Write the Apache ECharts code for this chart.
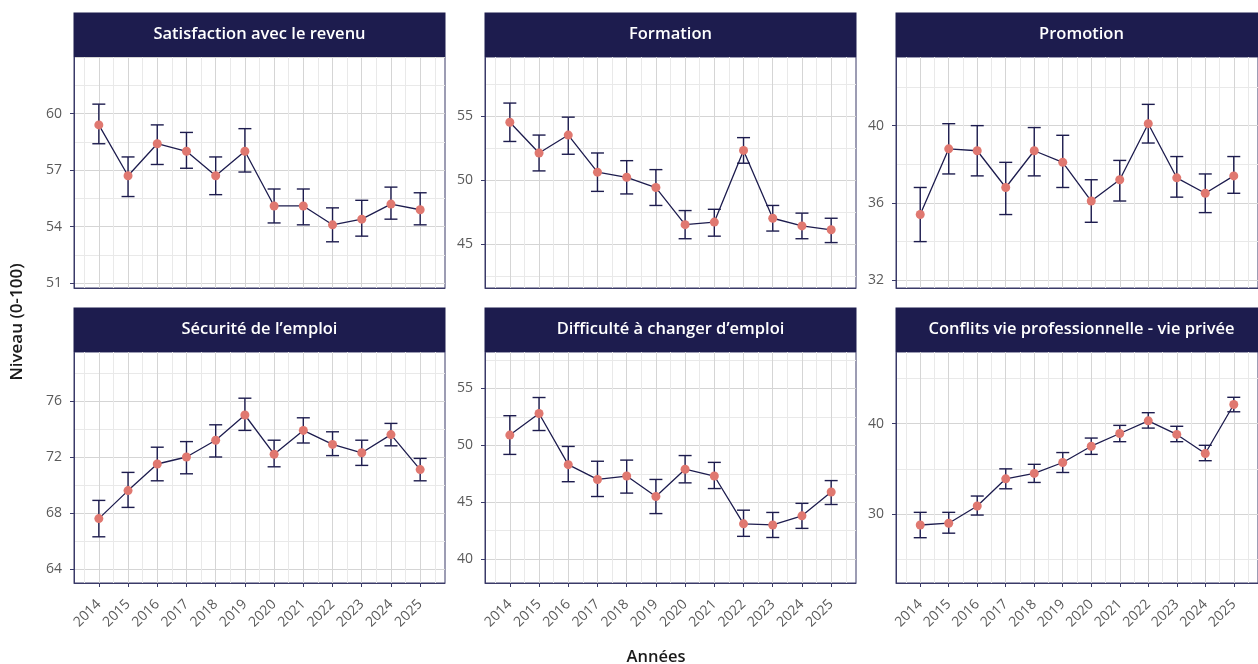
<!DOCTYPE html>
<html><head><meta charset="utf-8">
<script src="https://cdn.jsdelivr.net/npm/echarts@6/dist/echarts.min.js"></script>
<style>html,body{margin:0;padding:0;background:#fff}#c{width:1258px;height:664px}</style>
</head><body><div id="c"></div>
<script>
// ---------- data ----------
const years = [2014,2015,2016,2017,2018,2019,2020,2021,2022,2023,2024,2025];
const yearLabels = ['2014','2015','2016','2017','2018','2019','2020','2021','2022','2023','2024','2025'];
const panelTitles = ['Satisfaction avec le revenu','Formation','Promotion','Sécurité de l\u2019emploi','Difficulté à changer d\u2019emploi','Conflits vie professionnelle - vie privée'];

const revenuMean = [59.4,56.7,58.4,58.0,56.7,58.0,55.1,55.1,54.1,54.4,55.2,54.9];
const revenuLow  = [58.4,55.6,57.3,57.1,55.7,56.9,54.2,54.1,53.2,53.5,54.4,54.1];
const revenuHigh = [60.5,57.7,59.4,59.0,57.7,59.2,56.0,56.0,55.0,55.4,56.1,55.8];

const formationMean = [54.5,52.1,53.5,50.6,50.2,49.4,46.5,46.7,52.3,47.0,46.4,46.1];
const formationLow  = [53.0,50.7,52.0,49.1,48.9,48.0,45.4,45.6,51.3,46.0,45.4,45.1];
const formationHigh = [56.0,53.5,54.9,52.1,51.5,50.8,47.6,47.7,53.3,48.0,47.4,47.0];

const promotionMean = [35.4,38.8,38.7,36.8,38.7,38.1,36.1,37.2,40.1,37.3,36.5,37.4];
const promotionLow  = [34.0,37.5,37.4,35.4,37.4,36.8,35.0,36.1,39.1,36.3,35.5,36.5];
const promotionHigh = [36.8,40.1,40.0,38.1,39.9,39.5,37.2,38.2,41.1,38.4,37.5,38.4];

const securiteMean = [67.6,69.6,71.5,72.0,73.2,75.0,72.2,73.9,72.9,72.3,73.6,71.1];
const securiteLow  = [66.3,68.4,70.3,70.8,72.0,73.9,71.3,73.0,72.1,71.4,72.8,70.3];
const securiteHigh = [68.9,70.9,72.7,73.1,74.3,76.2,73.2,74.8,73.8,73.2,74.4,71.9];

const difficulteMean = [50.9,52.8,48.3,47.0,47.3,45.5,47.9,47.3,43.1,43.0,43.8,45.9];
const difficulteLow  = [49.2,51.3,46.8,45.5,45.8,44.0,46.7,46.2,42.0,41.9,42.7,44.8];
const difficulteHigh = [52.6,54.2,49.9,48.6,48.7,47.0,49.1,48.5,44.3,44.1,44.9,46.9];

const conflitsMean = [28.8,29.0,30.9,33.9,34.5,35.7,37.5,38.9,40.3,38.8,36.7,42.1];
const conflitsLow  = [27.4,27.9,29.9,32.8,33.5,34.6,36.6,38.0,39.5,38.0,35.9,41.3];
const conflitsHigh = [30.2,30.2,32.0,35.0,35.5,36.8,38.4,39.8,41.2,39.7,37.6,42.9];

const yTicksRevenu = [51,54,57,60];
const yTicksFormation = [45,50,55];
const yTicksPromotion = [32,36,40];
const yTicksSecurite = [64,68,72,76];
const yTicksDifficulte = [40,45,50,55];
const yTicksConflits = [30,40];

// ---------- panel configuration ----------
const panels = [
  {mean: revenuMean, low: revenuLow, high: revenuHigh, ticks: yTicksRevenu, min: 50.75, max: 63.0, major: 3},
  {mean: formationMean, low: formationLow, high: formationHigh, ticks: yTicksFormation, min: 41.55, max: 59.6, major: 5},
  {mean: promotionMean, low: promotionLow, high: promotionHigh, ticks: yTicksPromotion, min: 31.6, max: 43.55, major: 4},
  {mean: securiteMean, low: securiteLow, high: securiteHigh, ticks: yTicksSecurite, min: 63.0, max: 79.5, major: 4},
  {mean: difficulteMean, low: difficulteLow, high: difficulteHigh, ticks: yTicksDifficulte, min: 37.9, max: 58.2, major: 5},
  {mean: conflitsMean, low: conflitsLow, high: conflitsHigh, ticks: yTicksConflits, min: 22.4, max: 47.9, major: 10}
];

const NAVY = '#1d1c4e';
const BORDER = '#3a3a68';
const POINT = '#e07870';
const MAJOR = '#d5d5d5';
const MINOR = '#e9e9e9';
const TXT = '#5a5a5a';
const FONT = '"Open Sans", "Noto Sans", sans-serif';
const STEP = 0.05;
const XMIN = 2013.15, XMAX = 2025.85;

const colLeft = [74, 485, 896];
const rowTop = [57, 352];
const W = 371, H = 231, STRIP = 44.5;

function gridColors(min, step, major) {
  const n = Math.round(major / step);
  const arr = [];
  for (let i = 0; i < n; i++) {
    const v = min + i * step;
    const r = ((v % major) + major) % major;
    const q = r / (major / 2);
    const qi = Math.round(q);
    if (Math.abs(q - qi) < 1e-6) arr.push(qi % 2 === 0 ? MAJOR : MINOR);
    else arr.push('rgba(0,0,0,0)');
  }
  return arr;
}

const grids = [], xAxes = [], yAxes = [], series = [], graphics = [];

panels.forEach((p, k) => {
  const col = k % 3, row = Math.floor(k / 3);
  const left = colLeft[col], top = rowTop[row];
  const bottomRow = row === 1;
  grids.push({left: left, top: top, width: W, height: H, show: true,
    borderColor: BORDER, borderWidth: 1, backgroundColor: '#fff', containLabel: false});

  // grid-line axes
  xAxes.push({type: 'value', gridIndex: k, min: XMIN, max: XMAX, interval: STEP, position: 'bottom',
    axisLine: {show: false}, axisTick: {show: false}, axisLabel: {show: false},
    splitLine: {show: true, lineStyle: {color: gridColors(XMIN, STEP, 1), width: 1}}});
  yAxes.push({type: 'value', gridIndex: k, min: p.min, max: p.max, interval: STEP, position: 'left',
    axisLine: {show: false}, axisTick: {show: false}, axisLabel: {show: false},
    splitLine: {show: true, lineStyle: {color: gridColors(p.min, STEP, p.major), width: 1}}});

  // label axes
  xAxes.push({type: 'value', gridIndex: k, min: XMIN, max: XMAX, position: 'bottom', offset: 0,
    axisLine: {show: true, lineStyle: {color: BORDER, width: 1}},
    axisTick: {show: bottomRow, length: 4, lineStyle: {color: BORDER}, customValues: years},
    axisLabel: {show: bottomRow, customValues: years, rotate: 45, margin: 19, color: TXT, fontSize: 14, fontFamily: FONT,
      formatter: v => { const i = years.indexOf(Math.round(v)); return (Math.abs(v - Math.round(v)) < 1e-6 && i >= 0) ? yearLabels[i] : ''; }},
    splitLine: {show: false}});
  yAxes.push({type: 'value', gridIndex: k, min: p.min, max: p.max, position: 'left', offset: 0,
    axisLine: {show: true, lineStyle: {color: BORDER, width: 1}},
    axisTick: {show: true, length: 4, lineStyle: {color: BORDER}, customValues: p.ticks},
    axisLabel: {show: true, customValues: p.ticks, margin: 12, color: TXT, fontSize: 14, fontFamily: FONT,
      formatter: v => (p.ticks.some(t => Math.abs(t - v) < 1e-6) ? String(Math.round(v)) : '')},
    splitLine: {show: false}});

  const xi = 2 * k + 1, yi = 2 * k + 1;
  const errData = years.map((y, i) => [y, p.low[i], p.high[i]]);
  series.push({
    type: 'custom', xAxisIndex: xi, yAxisIndex: yi, z: 2, silent: true, clip: false,
    data: errData,
    renderItem: (params, api) => {
      const x = api.value(0);
      const lo = api.coord([x, api.value(1)]);
      const hi = api.coord([x, api.value(2)]);
      const hw = 6.5;
      const st = {stroke: NAVY, lineWidth: 1.4};
      return {type: 'group', children: [
        {type: 'line', shape: {x1: hi[0], y1: hi[1], x2: lo[0], y2: lo[1]}, style: st},
        {type: 'line', shape: {x1: hi[0] - hw, y1: hi[1], x2: hi[0] + hw, y2: hi[1]}, style: st},
        {type: 'line', shape: {x1: lo[0] - hw, y1: lo[1], x2: lo[0] + hw, y2: lo[1]}, style: st}
      ]};
    }
  });
  series.push({
    type: 'line', xAxisIndex: xi, yAxisIndex: yi, z: 3, silent: true,
    data: years.map((y, i) => [y, p.mean[i]]),
    symbol: 'circle', symbolSize: 9, showSymbol: true,
    itemStyle: {color: POINT, borderWidth: 0},
    lineStyle: {color: NAVY, width: 1.3},
    animation: false
  });

  // strip
  graphics.push({type: 'rect', shape: {x: left - 0.5, y: top - STRIP, width: W + 1, height: STRIP},
    style: {fill: NAVY}, z: 10});
  graphics.push({type: 'text', x: left + W / 2, y: top - STRIP / 2, z: 11,
    style: {text: panelTitles[k], fill: '#ffffff', fontSize: 16.5, fontWeight: 600, fontFamily: FONT,
      align: 'center', verticalAlign: 'middle'}});
});

graphics.push({type: 'text', x: 17, y: 322, rotation: Math.PI / 2, z: 11,
  style: {text: 'Niveau (0-100)', fill: '#1a1a1a', fontSize: 17, fontWeight: 600, fontFamily: FONT,
    align: 'center', verticalAlign: 'middle'}});
graphics.push({type: 'text', x: 656, y: 657, z: 11,
  style: {text: 'Années', fill: '#1a1a1a', fontSize: 16.5, fontWeight: 600, fontFamily: FONT,
    align: 'center', verticalAlign: 'middle'}});

const chart = echarts.init(document.getElementById('c'), null, {renderer: 'canvas'});
chart.setOption({
  animation: false,
  backgroundColor: '#ffffff',
  grid: grids, xAxis: xAxes, yAxis: yAxes, series: series, graphic: graphics
});
</script></body></html>
